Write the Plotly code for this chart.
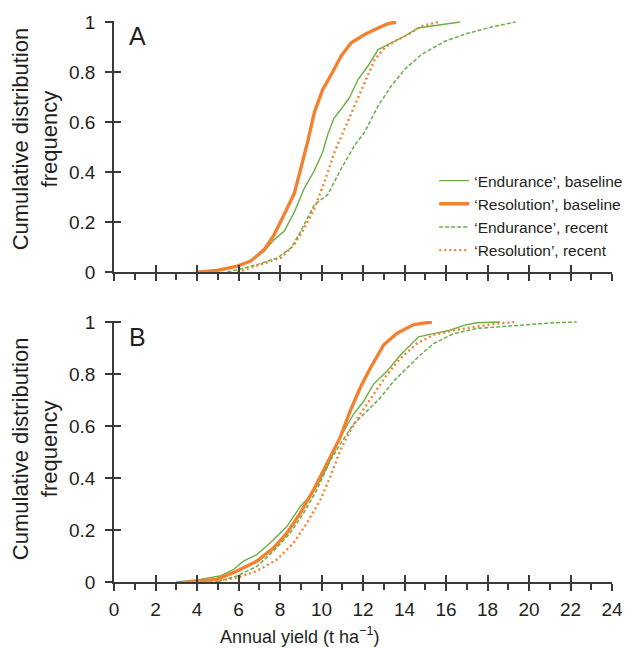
import plotly.graph_objects as go

# ---------------- data ----------------
# Panel A
a_end_base_x = [4.6, 5.5, 6.5, 7.24, 7.72, 8.2, 8.69, 9.17, 9.66, 10.06, 10.3, 10.6, 10.95, 11.35, 11.76, 12.24, 12.73, 13.37, 14.0, 14.66, 15.47, 16.28, 16.68]
a_end_base_f = [0, 0.012, 0.04, 0.083, 0.13, 0.163, 0.24, 0.335, 0.407, 0.48, 0.55, 0.615, 0.652, 0.698, 0.77, 0.824, 0.89, 0.917, 0.943, 0.976, 0.985, 0.996, 1.0]
a_res_base_x = [4.0, 4.97, 5.94, 6.59, 7.24, 7.72, 8.2, 8.69, 9.0, 9.33, 9.66, 10.06, 10.47, 10.95, 11.43, 12.08, 12.73, 13.2, 13.6]
a_res_base_f = [0, 0.007, 0.024, 0.044, 0.09, 0.15, 0.23, 0.315, 0.414, 0.52, 0.64, 0.73, 0.79, 0.864, 0.917, 0.95, 0.976, 0.993, 1.0]
a_end_rec_x = [5.46, 6.9, 7.88, 8.53, 9.0, 9.66, 10.3, 10.95, 11.6, 12.08, 12.73, 13.37, 14.0, 14.82, 15.95, 17.09, 18.2, 19.35]
a_end_rec_f = [0, 0.03, 0.057, 0.097, 0.163, 0.27, 0.31, 0.414, 0.507, 0.56, 0.665, 0.745, 0.81, 0.87, 0.923, 0.956, 0.98, 1.0]
a_res_rec_x = [5.94, 7.07, 8.04, 8.69, 9.17, 9.66, 10.14, 10.63, 11.11, 11.6, 12.08, 12.56, 13.05, 13.53, 14.18, 14.8, 15.63]
a_res_rec_f = [0, 0.03, 0.057, 0.11, 0.176, 0.255, 0.36, 0.48, 0.573, 0.665, 0.758, 0.85, 0.897, 0.923, 0.95, 0.983, 1.0]

# Panel B
b_end_base_x = [3.0, 4.0, 5.1, 5.76, 6.24, 6.88, 7.52, 8.33, 8.97, 9.61, 10.26, 10.9, 11.54, 12.03, 12.5, 13.15, 13.8, 14.68, 15.4, 16.2, 16.85, 17.49, 18.6]
b_end_base_f = [0, 0.008, 0.023, 0.048, 0.08, 0.105, 0.15, 0.213, 0.29, 0.346, 0.44, 0.556, 0.645, 0.695, 0.76, 0.81, 0.873, 0.943, 0.955, 0.968, 0.987, 0.997, 1.0]
b_res_base_x = [3.5, 4.95, 5.92, 6.88, 7.68, 8.33, 8.97, 9.61, 10.1, 10.58, 10.9, 11.38, 11.86, 12.35, 12.99, 13.63, 14.44, 15.32]
b_res_base_f = [0, 0.01, 0.042, 0.08, 0.13, 0.188, 0.264, 0.353, 0.43, 0.505, 0.556, 0.657, 0.746, 0.822, 0.911, 0.956, 0.99, 1.0]
b_end_rec_x = [4.95, 5.92, 6.88, 7.68, 8.49, 9.13, 9.77, 10.42, 10.9, 11.54, 12.19, 12.83, 13.47, 14.12, 14.76, 15.4, 16.37, 17.49, 19.42, 21.03, 22.3]
b_end_rec_f = [0, 0.023, 0.06, 0.118, 0.188, 0.264, 0.353, 0.467, 0.53, 0.607, 0.657, 0.708, 0.772, 0.822, 0.873, 0.917, 0.955, 0.975, 0.987, 0.996, 1.0]
b_res_rec_x = [4.63, 5.92, 6.88, 7.85, 8.65, 9.29, 9.94, 10.42, 10.9, 11.38, 11.86, 12.5, 13.15, 13.8, 14.6, 15.4, 16.37, 17.33, 18.46, 19.34]
b_res_rec_f = [0, 0.016, 0.042, 0.086, 0.15, 0.226, 0.315, 0.404, 0.505, 0.581, 0.645, 0.72, 0.797, 0.86, 0.917, 0.95, 0.968, 0.98, 0.994, 1.0]

series_names = ["\u2018Endurance\u2019, baseline", "\u2018Resolution\u2019, baseline",
                "\u2018Endurance\u2019, recent", "\u2018Resolution\u2019, recent"]
x_tick_vals = list(range(0, 25, 2))
x_tick_text = [str(v) for v in x_tick_vals]
y_tick_vals = [0, 0.2, 0.4, 0.6, 0.8, 1]
y_tick_text = ["0", "0.2", "0.4", "0.6", "0.8", "1"]
panel_labels = ["A", "B"]

# ---------------- styling ----------------
GREEN = "#6aae45"
ORANGE = "#f28232"
AXIS = "#3a3a3a"
TEXT = "#231f20"
FONT = "Liberation Sans, Arial, Helvetica, sans-serif"

styles = [
    dict(color=GREEN, width=1.4),
    dict(color=ORANGE, width=3.4),
    dict(color=GREEN, width=1.5, dash="4px,2px"),
    dict(color=ORANGE, width=2.4, dash="2px,3px"),
]

fig = go.Figure()

panel_a = [(a_end_base_x, a_end_base_f), (a_res_base_x, a_res_base_f),
           (a_end_rec_x, a_end_rec_f), (a_res_rec_x, a_res_rec_f)]
panel_b = [(b_end_base_x, b_end_base_f), (b_res_base_x, b_res_base_f),
           (b_end_rec_x, b_end_rec_f), (b_res_rec_x, b_res_rec_f)]

for (xs, fs), name, st in zip(panel_a, series_names, styles):
    fig.add_trace(go.Scatter(x=xs, y=fs, mode="lines", name=name, line=st,
                             xaxis="x", yaxis="y", showlegend=True))
for (xs, fs), name, st in zip(panel_b, series_names, styles):
    fig.add_trace(go.Scatter(x=xs, y=fs, mode="lines", name=name, line=st,
                             xaxis="x2", yaxis="y2", showlegend=False))

# empty helper traces so the overlay axes (inner half of crossing ticks) are drawn
for xa, ya in [("x3", "y"), ("x", "y3"), ("x4", "y2"), ("x2", "y4")]:
    fig.add_trace(go.Scatter(x=[], y=[], xaxis=xa, yaxis=ya, showlegend=False,
                             hoverinfo="skip"))

XR = [0, 24]
YR = [0, 1.004]
dom_a = [0.5524, 1.0]
dom_b = [0.0, 0.4654]

tickfont = dict(family=FONT, size=19, color=TEXT)

def xbase(anchor, labels):
    return dict(range=XR, domain=[0, 1], anchor=anchor, showgrid=False, zeroline=False,
                showline=True, linecolor=AXIS, linewidth=1.5,
                tickmode="array", tickvals=x_tick_vals, ticktext=x_tick_text,
                showticklabels=labels, ticks="outside", ticklen=7, tickwidth=1.5,
                tickcolor=AXIS, tickfont=tickfont, ticklabelstandoff=2,
                minor=dict(ticks="outside", dtick=1, tick0=0, ticklen=6,
                           tickwidth=1.5, tickcolor=AXIS, showgrid=False))

def xover(over, anchor):
    return dict(range=XR, overlaying=over, anchor=anchor, showgrid=False, zeroline=False,
                showline=False, tickmode="array", tickvals=x_tick_vals,
                showticklabels=False, ticks="inside", ticklen=7, tickwidth=1.5,
                tickcolor=AXIS)

def ybase(anchor, dom):
    return dict(range=YR, domain=dom, anchor=anchor, showgrid=False, zeroline=False,
                showline=True, linecolor=AXIS, linewidth=1.5,
                tickmode="array", tickvals=y_tick_vals, ticktext=y_tick_text,
                ticks="outside", ticklen=7, tickwidth=1.5, tickcolor=AXIS,
                tickfont=tickfont, ticklabelstandoff=6)

def yover(over, anchor):
    return dict(range=YR, overlaying=over, anchor=anchor, showgrid=False, zeroline=False,
                showline=False, tickmode="array", tickvals=y_tick_vals,
                showticklabels=False, ticks="inside", ticklen=7, tickwidth=1.5,
                tickcolor=AXIS)

annotations = []
for lab, yref in zip(panel_labels, ["y domain", "y2 domain"]):
    annotations.append(dict(text=lab, xref="x domain", yref=yref, x=0.026, y=0.94,
                            xanchor="left", yanchor="middle", showarrow=False,
                            font=dict(family=FONT, size=25, color=TEXT)))
for yref, yc in [("y domain", 0.53), ("y2 domain", 0.51)]:
    annotations.append(dict(text="Cumulative distribution<br>frequency",
                            xref="paper", yref=yref, x=-0.158, y=yc,
                            xanchor="center", yanchor="middle", textangle=-90,
                            showarrow=False,
                            font=dict(family=FONT, size=22, color=TEXT)))
annotations.append(dict(text="Annual yield (t ha<sup>\u22121</sup>)", xref="paper", yref="paper",
                        x=0.372, y=-0.095, xanchor="center", yanchor="middle",
                        showarrow=False, font=dict(family=FONT, size=18, color=TEXT)))

fig.update_layout(
    width=640, height=648,
    margin=dict(l=114, r=13, t=19, b=66),
    paper_bgcolor="white", plot_bgcolor="white",
    font=dict(family=FONT, color=TEXT),
    xaxis=xbase("y", False),
    xaxis2=xbase("y2", True),
    xaxis3=xover("x", "y"),
    xaxis4=xover("x2", "y2"),
    yaxis=ybase("x", dom_a),
    yaxis2=ybase("x2", dom_b),
    yaxis3=yover("y", "x"),
    yaxis4=yover("y2", "x2"),
    legend=dict(x=0.643, y=0.745, xanchor="left", yanchor="top",
                bgcolor="rgba(0,0,0,0)", itemwidth=30, tracegroupgap=0,
                font=dict(family=FONT, size=15.5, color=TEXT)),
    annotations=annotations,
    showlegend=True,
)

fig.write_html("out.html")
